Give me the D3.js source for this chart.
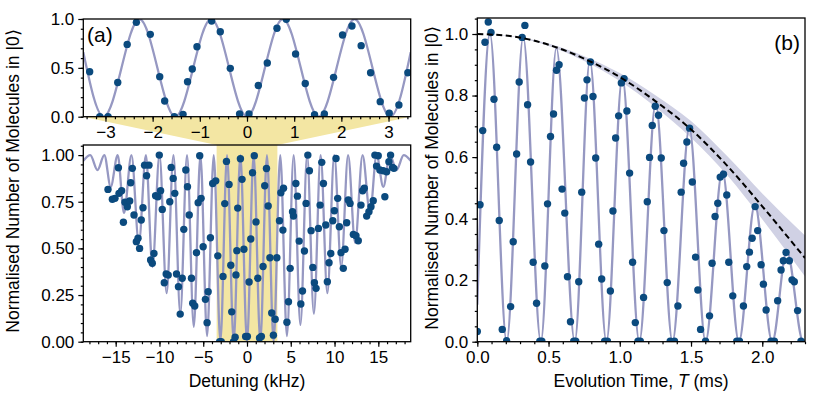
<!doctype html>
<html lang="en">
<head>
<meta charset="utf-8">
<title>Ramsey fringes and contrast decay</title>
<script src="https://d3js.org/d3.v7.min.js"></script>
<style>
  body { margin: 0; background: #fff; }
  svg { display: block; font-family: "Liberation Sans", Arial, sans-serif; }
</style>
</head>
<body>
<div id="chart"></div>
<script>
// ---- data ----
// (a) inset: detuning (kHz), fraction in |0>
const insetPoints = [
  [-3.335,0.46],[-3.12,0.0],[-2.945,0.0],[-2.74,0.35],[-2.54,0.74],[-2.345,0.966],[-2.05,0.843],
  [-1.85,0.41],[-1.745,0.16],[-1.54,0.0],[-1.356,0.024],[-1.26,0.358],[-1.16,0.488],[-1.06,0.716],
  [-0.75,0.98],[-0.566,0.87],[-0.354,0.495],[-0.157,0.028],[0.042,0.028],[0.24,0.32],[0.43,0.55],
  [0.635,0.905],[0.833,0.997],[1.03,0.642],[1.235,0.34],[1.432,0.02],[1.64,0.028],[1.835,0.403],
  [2.025,0.836],[2.225,0.928],[2.42,0.727],[2.62,0.45],[2.824,0.154],[3.015,0.035],[3.22,0.12],[3.41,0.45]
];
// (a) main panel, points outside the zoomed window
const detuningLeft = [
  [-15.88,0.816],[-15.38,0.763],[-15.08,0.768],[-14.69,0.932],[-14.62,0.795],[-14.32,0.809],[-14.12,0.64],
  [-13.94,0.747],[-13.67,0.723],[-13.4,0.754],[-13.29,0.852],[-13.1,0.929],[-12.91,0.679],[-12.64,0.536],
  [-12.45,0.554],[-12.27,0.5],[-12.08,0.652],[-11.88,0.718],[-11.7,0.946],[-11.47,0.889],[-11.2,0.946],
  [-11.01,0.438],[-10.82,0.42],[-10.63,0.473],[-10.44,0.782],[-10.18,0.777],[-10.02,1.0],[-9.87,0.809],
  [-9.68,0.709],[-9.45,0.316],[-9.23,0.363],[-9.0,0.357],[-8.82,0.75],[-8.66,0.934],[-8.43,0.875],
  [-8.25,0.795],[-8.05,0.363],[-7.83,0.295],[-7.63,0.148],[-7.4,0.34],[-7.22,0.602],[-6.99,0.92],
  [-6.8,0.83],[-6.6,0.679],[-6.34,0.34],[-6.2,0.206],[-5.97,0.191],[-5.77,0.477],[-5.58,0.745],
  [-5.4,0.996],[-5.24,0.768],[-5.01,0.509],[-4.75,0.227],[-4.56,0.102],[-4.44,0.268],[-4.18,0.557],
  [-3.92,0.848],[-3.57,0.862]
];
const detuningRight = [
  [3.71,0.648],[3.87,0.798],[4.1,0.598],[4.17,0.822],[4.56,0.104],[4.74,0.214],[4.93,0.393],[5.2,0.696],
  [5.31,0.673],[5.58,0.848],[5.76,0.78],[5.96,0.539],[6.15,0.202],[6.34,0.272],[6.56,0.486],[6.75,0.741],
  [6.95,1.0],[7.13,0.916],[7.32,0.595],[7.52,0.398],[7.7,0.316],[7.89,0.286],[8.16,0.607],[8.35,0.732],
  [8.54,0.961],[8.73,0.848],[9.0,0.625],[9.18,0.321],[9.37,0.423],[9.57,0.473],[9.8,0.648],[9.98,0.702],
  [10.17,0.982],[10.36,0.768],[10.55,0.616],[10.74,0.477],[11.0,0.393],[11.2,0.495],[11.39,0.637],
  [11.57,0.759],[11.77,0.741],[12.15,0.575],[12.45,0.568],[12.71,0.541],[13.02,0.732],[13.21,0.809],
  [13.4,0.822],[13.67,0.673],[13.93,0.696],[14.16,0.723],[14.42,0.755],[14.61,1.0],[14.8,0.941],
  [14.99,0.996],[15.18,0.92],[15.56,0.916],[15.75,0.777],[15.95,0.911],[16.21,0.964],[16.4,1.0],
  [16.63,0.934],[16.78,0.929]
];
// fitted fringe, given by its peaks and troughs
const insetFit = [
  [-3.47,0.66],[-3.04,0],[-2.28,1],[-1.52,0],[-0.76,1],[0,0],[0.76,1],[1.52,0],[2.28,1],[3.04,0],[3.47,0.66]
];
const detuningFit = [
  [-18.7,0.97],[-17.9,1],[-17.08,0.92],[-16.3,1],[-15.57,0.83],[-14.77,1],[-14.05,0.69],[-13.2,1],
  [-12.35,0.53],[-11.55,1],[-10.8,0.4],[-10.0,1],[-9.18,0.26],[-8.4,1],[-7.62,0.15],[-6.85,1],
  [-6.08,0.08],[-5.32,1],[-4.56,0.03],[-3.8,1],[-3.04,0],[-2.28,1],[-1.52,0],[-0.76,1],[0,0],
  [0.76,1],[1.52,0],[2.28,1],[3.04,0],[3.8,1],[4.56,0.03],[5.33,1],[6.1,0.09],[6.87,1],[7.64,0.15],
  [8.41,1],[9.18,0.26],[9.97,1],[10.76,0.4],[11.55,1],[12.35,0.53],[13.2,1],[14.05,0.69],[14.8,1],
  [15.57,0.83],[16.33,1],[17.08,0.92],[17.9,1],[18.7,0.97]
];

// (b) evolution time (ms), fraction in |0>
const timePoints = [
  [0,0.033],[0.019,0.445],[0.038,0.686],[0.054,0.973],[0.077,1.039],[0.096,1.005],[0.117,0.788],
  [0.136,0.632],[0.154,0.394],[0.175,0.04],[0.206,0.003],[0.234,0.114],[0.252,0.325],[0.276,0.61],
  [0.294,0.844],[0.315,0.989],[0.334,1.028],[0.353,0.77],[0.374,0.584],[0.392,0.258],[0.416,0.125],
  [0.439,0.002],[0.453,0.002],[0.474,0.246],[0.493,0.448],[0.514,0.667],[0.535,0.74],[0.556,0.882],
  [0.574,0.9],[0.595,0.496],[0.614,0.418],[0.633,0.211],[0.654,0.065],[0.677,0.002],[0.691,0.002],
  [0.712,0.195],[0.733,0.486],[0.752,0.792],[0.77,0.851],[0.794,0.909],[0.812,0.797],[0.831,0.597],
  [0.852,0.317],[0.873,0.204],[0.894,0.002],[0.913,0.002],[0.934,0.165],[0.952,0.425],[0.971,0.662],
  [0.992,0.734],[1.011,0.841],[1.03,0.855],[1.05,0.75],[1.069,0.548],[1.09,0.258],[1.109,0.062],
  [1.128,0.002],[1.144,0.002],[1.167,0.144],[1.193,0.455],[1.209,0.599],[1.228,0.703],[1.249,0.765],
  [1.272,0.736],[1.291,0.597],[1.31,0.361],[1.333,0.192],[1.354,0.002],[1.384,0.002],[1.408,0.116],
  [1.431,0.486],[1.448,0.58],[1.471,0.649],[1.49,0.694],[1.509,0.519],[1.532,0.275],[1.548,0.168],
  [1.567,0.04],[1.602,0.002],[1.63,0.084],[1.648,0.255],[1.669,0.407],[1.688,0.45],[1.705,0.535],
  [1.728,0.544],[1.751,0.477],[1.765,0.258],[1.793,0.149],[1.821,0.002],[1.84,0.002],[1.868,0.116],
  [1.891,0.244],[1.91,0.291],[1.929,0.336],[1.95,0.439],[1.968,0.361],[1.992,0.25],[2.008,0.187],
  [2.027,0.103],[2.062,0.002],[2.085,0.002],[2.108,0.133],[2.132,0.233],[2.148,0.263],[2.167,0.29],
  [2.19,0.263],[2.209,0.201],[2.225,0.195],[2.248,0.101],[2.272,0.002]
];
const timeFit = [
  [0,0.12],[0.089,1.0],[0.206,0],[0.322,0.99],[0.446,0],[0.555,0.955],[0.684,0],[0.79,0.915],
  [0.906,0],[1.018,0.86],[1.137,0],[1.252,0.775],[1.37,0],[1.488,0.695],[1.602,0],[1.72,0.555],
  [1.836,0],[1.948,0.445],[2.07,0],[2.172,0.295],[2.288,0],[2.3,0.003]
];
// contrast envelope and its uncertainty band
const envTime  = [0, 0.25, 0.5, 0.75, 1.0, 1.25, 1.5, 1.75, 2.0, 2.3];
const envValue = [1.0, 0.992, 0.965, 0.92, 0.86, 0.782, 0.69, 0.574, 0.44, 0.272];
const envLow   = [1.0, 0.991, 0.961, 0.912, 0.847, 0.763, 0.663, 0.543, 0.398, 0.212];
const envHigh  = [1.0, 0.993, 0.969, 0.928, 0.873, 0.801, 0.717, 0.605, 0.482, 0.345];

// ---- drawing ----
const width = 830, height = 398;
const dotColor = "#0b4a7e", fitColor = "#9698c2", bandColor = "#d0d1e4", zoomColor = "#f3e6a3";

const svg = d3.select("#chart").append("svg")
    .attr("width", width)
    .attr("height", height)
    .attr("viewBox", [0, 0, width, height]);

const insetX = d3.scaleLinear([-3.47, 3.47], [83.3, 410.7]);
const insetY = d3.scaleLinear([0, 1], [116.7, 19]);
const detX = d3.scaleLinear([-18.7, 18.7], [83.3, 410.7]);
const detY = d3.scaleLinear([0, 1.054], [341.7, 145]);
const timeX = d3.scaleLinear([0, 2.3], [477.3, 805]);
const timeY = d3.scaleLinear([0, 1.052], [341.7, 18]);

function clipFor(id, x, y) {
  svg.append("clipPath").attr("id", id)
    .append("rect")
      .attr("x", x.range()[0]).attr("y", y.range()[1])
      .attr("width", x.range()[1] - x.range()[0])
      .attr("height", y.range()[0] - y.range()[1]);
  return `url(#${id})`;
}

function axes(x, y, o) {
  const g = svg.append("g");
  const y0 = y.range()[0], x0 = x.range()[0];
  const style = a => a
      .call(s => s.select(".domain").remove())
      .attr("font-family", null)
      .attr("font-size", 17)
      .call(s => s.selectAll("text").attr("fill", "#000"))
      .call(s => s.selectAll("line").attr("stroke", "#000").attr("stroke-width", 1.2));
  g.append("g").attr("transform", `translate(0,${y0})`)
    .call(d3.axisBottom(x).tickValues(o.xMinor).tickFormat("").tickSize(2.5)).call(style);
  g.append("g").attr("transform", `translate(0,${y0})`)
    .call(d3.axisBottom(x).tickValues(o.xMajor).tickFormat(d3.format(o.xFmt)).tickSize(5).tickPadding(4)).call(style);
  g.append("g").attr("transform", `translate(${x0},0)`)
    .call(d3.axisLeft(y).tickValues(o.yMinor).tickFormat("").tickSize(2.5)).call(style);
  g.append("g").attr("transform", `translate(${x0},0)`)
    .call(d3.axisLeft(y).tickValues(o.yMajor).tickFormat(d3.format(o.yFmt)).tickSize(5).tickPadding(4)).call(style);
  g.append("rect")
      .attr("x", x0).attr("y", y.range()[1])
      .attr("width", x.range()[1] - x0).attr("height", y0 - y.range()[1])
      .attr("fill", "none").attr("stroke", "#000").attr("stroke-width", 1.3);
}

const fitLine = (x, y) => d3.line().x(d => x(d[0])).y(d => y(d[1])).curve(d3.curveMonotoneX);

function dots(g, data, x, y) {
  g.append("g").attr("fill", dotColor)
    .selectAll("circle").data(data).join("circle")
      .attr("cx", d => x(d[0])).attr("cy", d => y(d[1])).attr("r", 3.7);
}

// zoom connector and highlighted window
svg.append("path")
    .attr("fill", zoomColor)
    .attr("d", d3.line()([
      [insetX.range()[0], insetY(0)], [insetX.range()[1], insetY(0)],
      [detX(insetX.domain()[1]), detY.range()[1]], [detX(insetX.domain()[0]), detY.range()[1]]
    ]));
svg.append("rect")
    .attr("fill", zoomColor)
    .attr("x", detX(insetX.domain()[0])).attr("y", detY.range()[1])
    .attr("width", detX(insetX.domain()[1]) - detX(insetX.domain()[0]))
    .attr("height", detY.range()[0] - detY.range()[1]);

// inset panel
const gInset = svg.append("g").attr("clip-path", clipFor("clipInset", insetX, insetY));
gInset.append("path").attr("d", fitLine(insetX, insetY)(insetFit))
    .attr("fill", "none").attr("stroke", fitColor).attr("stroke-width", 2.3);
dots(gInset, insetPoints, insetX, insetY);
axes(insetX, insetY, {
  xMajor: d3.range(-3, 4, 1), xMinor: d3.range(-34, 35, 2).map(v => v / 10), xFmt: "d",
  yMajor: [0, 0.5, 1], yMinor: d3.range(0, 11).map(v => v / 10), yFmt: ".1f"
});

// detuning panel
const gDet = svg.append("g").attr("clip-path", clipFor("clipDet", detX, detY));
gDet.append("path").attr("d", fitLine(detX, detY)(detuningFit))
    .attr("fill", "none").attr("stroke", fitColor).attr("stroke-width", 2.3);
dots(gDet, detuningLeft.concat(insetPoints, detuningRight), detX, detY);
axes(detX, detY, {
  xMajor: d3.range(-15, 16, 5), xMinor: d3.range(-18, 19, 1), xFmt: "d",
  yMajor: [0, 0.25, 0.5, 0.75, 1], yMinor: d3.range(0, 22).map(v => v / 20), yFmt: ".2f"
});

// time panel
const gTime = svg.append("g").attr("clip-path", clipFor("clipTime", timeX, timeY));
const envData = envTime.map((t, i) => ({t, v: envValue[i], lo: envLow[i], hi: envHigh[i]}));
gTime.append("path")
    .attr("fill", bandColor)
    .attr("d", d3.area().x(d => timeX(d.t)).y0(d => timeY(d.lo)).y1(d => timeY(d.hi))
      .curve(d3.curveMonotoneX)(envData));
gTime.append("path").attr("d", fitLine(timeX, timeY)(timeFit))
    .attr("fill", "none").attr("stroke", fitColor).attr("stroke-width", 2.3);
dots(gTime, timePoints, timeX, timeY);
gTime.append("path")
    .attr("fill", "none").attr("stroke", "#000").attr("stroke-width", 2)
    .attr("stroke-dasharray", "6,3.5")
    .attr("d", d3.line().x(d => timeX(d.t)).y(d => timeY(d.v)).curve(d3.curveMonotoneX)(envData));
axes(timeX, timeY, {
  xMajor: [0, 0.5, 1, 1.5, 2], xMinor: d3.range(0, 24).map(v => v / 10), xFmt: ".1f",
  yMajor: [0, 0.2, 0.4, 0.6, 0.8, 1], yMinor: d3.range(0, 22).map(v => v / 20), yFmt: ".1f"
});

// labels
const yTitle = "Normalised Number of Molecules in |0\u27E9";
svg.append("text")
    .attr("transform", "translate(19,181) rotate(-90)")
    .attr("text-anchor", "middle").attr("font-size", 17.5)
    .text(yTitle);
svg.append("text")
    .attr("transform", "translate(438,178) rotate(-90)")
    .attr("text-anchor", "middle").attr("font-size", 17.5)
    .text(yTitle);
svg.append("text")
    .attr("x", 247).attr("y", 387)
    .attr("text-anchor", "middle").attr("font-size", 17.5)
    .text("Detuning (kHz)");
const tl = svg.append("text")
    .attr("x", 641).attr("y", 387)
    .attr("text-anchor", "middle").attr("font-size", 17.5);
tl.append("tspan").text("Evolution Time, ");
tl.append("tspan").attr("font-style", "italic").text("T");
tl.append("tspan").text(" (ms)");

svg.append("text").attr("x", 87).attr("y", 42).attr("font-size", 21).text("(a)");
svg.append("text").attr("x", 800).attr("y", 50).attr("text-anchor", "end").attr("font-size", 21).text("(b)");
</script>
</body>
</html>
